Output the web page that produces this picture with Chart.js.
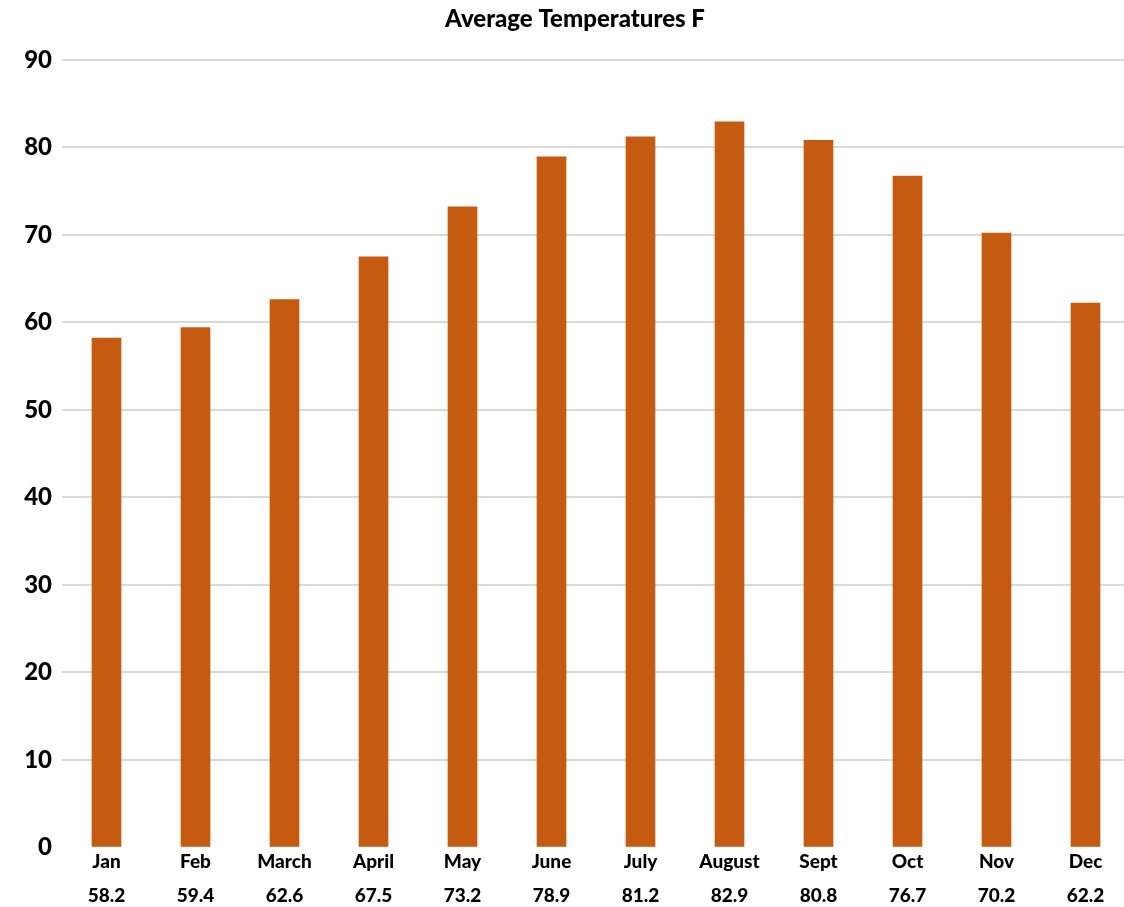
<!DOCTYPE html>
<html>
<head>
<meta charset="utf-8">
<script src="https://cdn.jsdelivr.net/npm/chart.js@4/dist/chart.umd.min.js"></script>
<style>
    html, body { margin: 0; padding: 0; background: #fff; overflow: hidden; }
</style>
</head>
<body>
<canvas id="temp-chart" width="1130" height="907"></canvas>
<script>
const months = ['Jan', 'Feb', 'March', 'April', 'May', 'June', 'July', 'August', 'Sept', 'Oct', 'Nov', 'Dec'];
const avgTemps = [58.2, 59.4, 62.6, 67.5, 73.2, 78.9, 81.2, 82.9, 80.8, 76.7, 70.2, 62.2];
const yTicks = [0, 10, 20, 30, 40, 50, 60, 70, 80, 90];

const fontFamily = 'Lato, "Open Sans", sans-serif';

const tempChart = new Chart(document.getElementById('temp-chart'), {
    type: 'bar',
    data: {
        labels: months,
        datasets: [{
            label: 'Average Temperatures F',
            data: avgTemps,
            backgroundColor: '#C55A11',
            borderWidth: 0,
            barThickness: 29
        }]
    },
    options: {
        responsive: false,
        animation: false,
        devicePixelRatio: 1,
        layout: { padding: { left: 20, right: 0, top: 0, bottom: 0 } },
        plugins: {
            legend: { display: false },
            tooltip: { enabled: false },
            title: {
                display: true,
                text: 'Average Temperatures F',
                color: '#000',
                font: { family: fontFamily, size: 24, weight: 900, lineHeight: 1.2 },
                padding: { top: 5, bottom: 26 }
            }
        },
        scales: {
            x: {
                grid: { display: false, drawTicks: false },
                border: { display: false },
                ticks: {
                    color: '#000',
                    padding: -3,
                    autoSkip: false,
                    maxRotation: 0,
                    font: { family: fontFamily, size: 19, weight: 900, lineHeight: '34px' },
                    callback: function (value, index) {
                        return [months[index], avgTemps[index].toFixed(1)];
                    }
                },
                afterFit: function (scale) { scale.height = 59.5; }
            },
            y: {
                min: 0,
                max: 90,
                afterBuildTicks: function (scale) {
                    scale.ticks = yTicks.map(v => ({ value: v }));
                },
                grid: {
                    drawTicks: false,
                    lineWidth: 2,
                    color: ctx => ctx.tick && ctx.tick.value === 0 ? 'rgba(0,0,0,0)' : '#d9d9d9'
                },
                border: { display: false },
                ticks: {
                    color: '#000',
                    padding: 10,
                    font: { family: fontFamily, size: 24, weight: 900 }
                },
                afterFit: function (scale) { scale.width = 42; }
            }
        }
    }
});
</script>
</body>
</html>
